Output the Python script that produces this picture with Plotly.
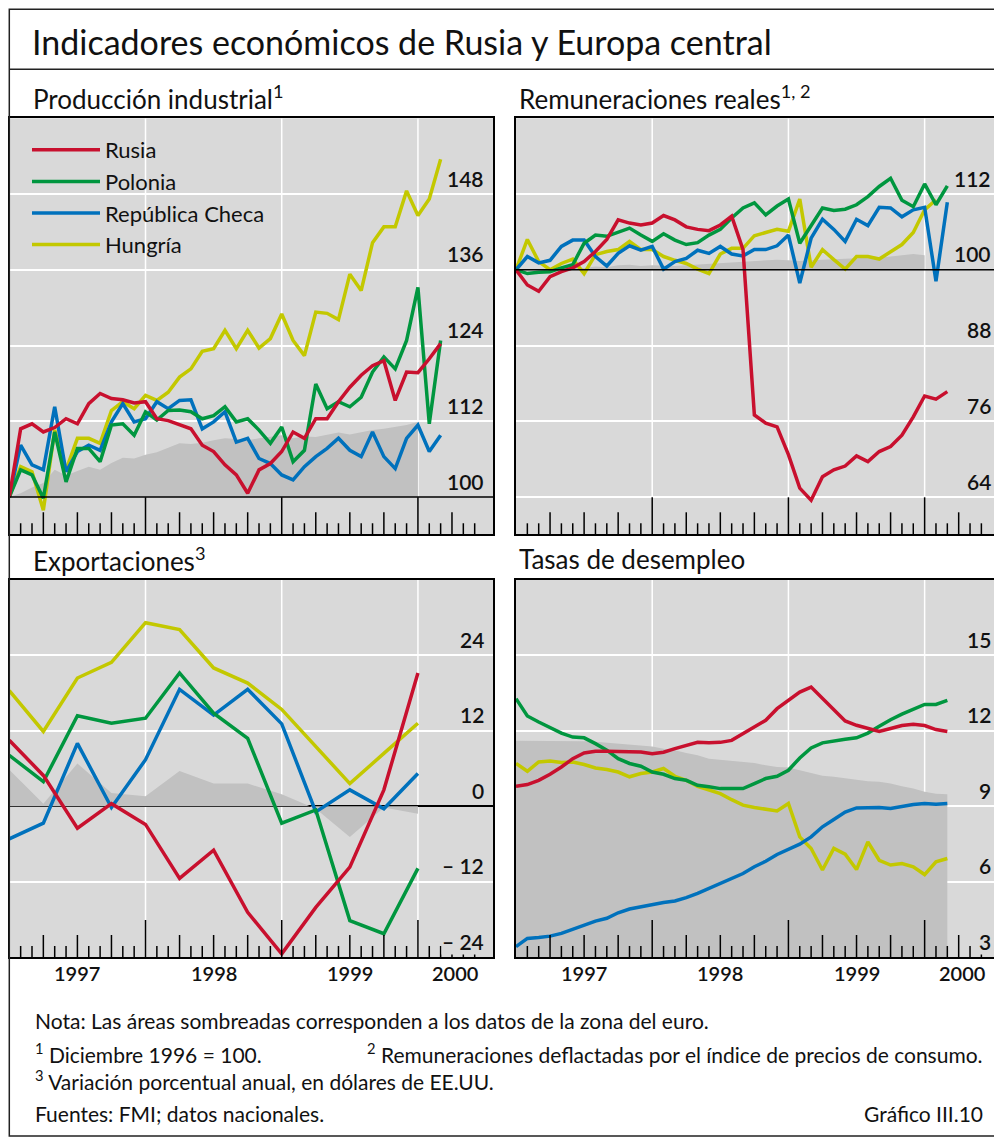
import plotly.graph_objects as go

FONT = "Lato, 'Open Sans', sans-serif"

# ---------------- data ----------------
meses = list(range(0, 39))            # months since Dec-1996 (monthly series)
trimestres = list(range(0, 37, 3))    # quarterly series (months since Dec-1996)
meses_euro = list(range(0, 37))

paises = ["Rusia", "Polonia", "República Checa", "Hungría"]
colores = ["#c8102e", "#00963f", "#0071bc", "#c3c800"]

# Producción industrial (Dic 1996 = 100)
ip_rusia = [100.0, 110.8, 111.6, 110.3, 111.0, 112.4, 111.6, 114.8, 116.4, 115.6, 115.4, 114.9, 115.1,
            112.4, 112.1, 111.4, 110.8, 108.2, 107.2, 105.1, 103.5, 100.6, 104.3, 105.3, 107.2,
            110.3, 109.3, 112.4, 112.4, 115.1, 117.4, 119.3, 120.8, 121.6, 115.3, 119.8, 119.7, 121.9, 124.3]
ip_polonia = [100.0, 104.3, 103.5, 99.8, 110.3, 102.4, 107.7, 107.7, 105.6, 111.4, 111.6, 109.8, 113.5,
              112.2, 113.7, 113.8, 113.5, 112.4, 112.9, 114.3, 111.9, 112.4, 110.6, 108.5, 111.1,
              105.6, 107.4, 117.9, 114.0, 115.1, 114.3, 115.8, 119.8, 122.2, 120.3, 124.8, 133.2, 111.6, 124.8]
ip_checa = [100.0, 108.2, 105.1, 104.3, 114.3, 104.0, 107.2, 108.2, 107.4, 111.9, 114.8, 111.9, 112.4,
            115.1, 114.0, 115.3, 115.4, 110.8, 111.9, 113.5, 108.7, 109.3, 106.1, 105.3, 103.5,
            102.7, 104.8, 106.4, 107.7, 109.3, 107.4, 106.4, 110.3, 106.4, 104.5, 109.3, 111.4, 107.2, 109.8]
ip_hungria = [100.0, 104.8, 104.0, 97.9, 110.6, 104.3, 109.3, 109.3, 108.5, 113.7, 115.1, 114.0, 116.1,
              115.3, 116.6, 119.0, 120.3, 123.1, 123.5, 126.4, 123.5, 126.4, 123.6, 125.1, 129.0,
              124.8, 122.4, 129.3, 129.1, 128.1, 135.3, 132.7, 140.3, 142.8, 142.8, 148.5, 144.6, 147.2, 153.5]
ip_euro = [100.0, 100.6, 101.5, 102.2, 104.3, 103.4, 104.1, 104.8, 104.3, 105.4, 106.2, 106.1, 106.7,
           107.1, 107.8, 108.5, 108.4, 108.6, 109.0, 109.3, 109.2, 109.0, 109.3, 109.5, 109.8,
           109.3, 109.6, 109.5, 109.8, 110.2, 109.9, 110.3, 110.6, 110.8, 111.1, 111.4, 111.9]

# Remuneraciones reales (Dic 1996 = 100)
rem_rusia = [100.0, 97.6, 96.6, 98.9, 99.7, 100.3, 101.3, 102.9, 104.8, 107.9, 107.4, 107.1, 107.4,
             108.6, 107.9, 106.8, 106.4, 106.2, 107.1, 108.5, 103.2, 77.0, 75.7, 75.1, 70.7,
             65.4, 63.5, 67.2, 68.3, 68.9, 70.5, 69.6, 71.2, 72.0, 73.8, 76.7, 80.0, 79.5, 80.7]
rem_polonia = [100.0, 99.4, 99.6, 99.7, 100.3, 100.8, 104.2, 105.5, 105.3, 105.9, 106.6, 105.5, 104.5,
               105.7, 104.7, 104.0, 104.3, 105.5, 106.4, 108.2, 109.8, 110.6, 108.7, 110.1, 111.2,
               104.2, 107.1, 109.8, 109.4, 109.6, 110.3, 111.6, 113.2, 114.5, 111.0, 110.0, 113.6, 110.3, 113.3]
rem_checa = [100.0, 102.1, 101.1, 101.5, 103.7, 104.7, 104.7, 102.1, 100.6, 102.6, 103.8, 103.1, 103.7,
             100.1, 101.3, 101.8, 103.1, 102.6, 103.7, 102.5, 102.2, 103.2, 103.2, 103.8, 105.5,
             97.9, 105.0, 108.0, 106.4, 104.5, 108.0, 107.0, 109.9, 109.8, 108.4, 109.5, 109.9, 98.2, 110.7]
rem_hungria = [100.0, 104.8, 101.3, 100.0, 101.0, 101.7, 99.4, 102.4, 102.9, 103.2, 104.5, 103.2, 103.2,
               102.1, 101.5, 101.0, 100.1, 99.4, 102.5, 103.4, 103.4, 105.4, 105.9, 106.4, 106.1,
               111.2, 100.4, 103.2, 101.6, 100.1, 102.1, 102.1, 101.7, 102.9, 104.0, 105.9, 109.5, 111.1]
rem_euro = [100.0, 100.0, 100.1, 100.2, 100.3, 100.4, 100.3, 100.5, 100.4, 100.7, 100.8, 100.6, 100.7,
            100.6, 100.6, 100.7, 100.8, 101.0, 101.1, 101.1, 101.2, 101.3, 101.5, 101.6, 101.5,
            101.4, 101.5, 101.6, 101.7, 101.8, 101.8, 101.9, 101.9, 102.1, 102.3, 102.5, 102.3]

# Exportaciones (variación porcentual anual, USD) - trimestral
exp_rusia = [10.5, 4.9, -3.5, 0.4, -2.9, -11.5, -7.0, -16.9, -23.5, -16.1, -9.7, 2.6, 21.2]
exp_polonia = [8.1, 3.9, 14.4, 13.2, 14.0, 21.2, 14.8, 10.8, -2.7, -0.6, -18.2, -20.3, -9.9]
exp_checa = [-5.2, -2.7, 10.0, -0.2, 7.4, 18.6, 14.5, 18.6, 13.1, -0.9, 2.6, -0.4, 5.2]
exp_hungria = [18.4, 11.9, 20.4, 22.9, 29.2, 28.1, 22.0, 19.6, 15.4, 9.5, 3.6, 8.4, 13.2]
exp_euro = [5.8, 0.4, 6.8, 2.1, 1.6, 5.6, 3.6, 3.6, 1.9, -0.4, -4.9, -0.2, -1.2]

# Tasas de desempleo (%)
des_rusia = [9.79, 9.86, 10.03, 10.27, 10.56, 10.89, 11.12, 11.19, 11.19, 11.19, 11.19, 11.16, 11.09,
             11.15, 11.29, 11.42, 11.54, 11.52, 11.54, 11.62, 11.89, 12.13, 12.42, 12.88, 13.21,
             13.54, 13.74, 13.28, 12.81, 12.39, 12.22, 12.09, 11.97, 12.09, 12.21, 12.26, 12.21, 12.05, 11.97]
des_polonia = [13.28, 12.59, 12.35, 12.13, 11.91, 11.75, 11.72, 11.49, 11.23, 10.89, 10.70, 10.59, 10.36,
               10.27, 10.10, 10.03, 9.83, 9.77, 9.70, 9.70, 9.70, 9.90, 10.10, 10.19, 10.43,
               10.92, 11.32, 11.52, 11.60, 11.66, 11.72, 11.91, 12.18, 12.44, 12.66, 12.84, 13.05, 13.05, 13.21]
des_checa = [3.41, 3.74, 3.78, 3.83, 3.94, 4.10, 4.25, 4.43, 4.54, 4.76, 4.91, 5.00, 5.09,
             5.17, 5.23, 5.36, 5.53, 5.73, 5.93, 6.13, 6.32, 6.59, 6.81, 7.08, 7.28,
             7.49, 7.78, 8.18, 8.47, 8.77, 8.93, 8.93, 8.95, 8.91, 9.00, 9.07, 9.11, 9.08, 9.11]
des_hungria = [10.70, 10.39, 10.76, 10.80, 10.74, 10.76, 10.66, 10.52, 10.46, 10.36, 10.17, 10.30, 10.36,
               10.50, 10.19, 10.03, 9.79, 9.64, 9.50, 9.26, 9.04, 8.95, 8.87, 8.81, 9.11,
               7.78, 7.32, 6.46, 7.32, 7.09, 6.48, 7.58, 6.85, 6.66, 6.72, 6.59, 6.28, 6.79, 6.92]
des_euro = [11.60, 11.60, 11.60, 11.60, 11.60, 11.60, 11.58, 11.56, 11.52, 11.49, 11.46, 11.42, 11.38,
            11.29, 11.23, 11.12, 11.03, 10.89, 10.85, 10.80, 10.76, 10.72, 10.63, 10.56, 10.54,
            10.43, 10.30, 10.21, 10.17, 10.10, 10.06, 9.99, 9.97, 9.90, 9.79, 9.70, 9.57, 9.50, 9.48]

# axis labels
ticks_ip = [100, 112, 124, 136, 148]
ticks_rem = [64, 76, 88, 100, 112]
ticks_exp = [-24, -12, 0, 12, 24]
ticks_des = [3, 6, 9, 12, 15]
anios = ["1997", "1998", "1999", "2000"]

# ---------------- geometry ----------------
OFF = 8                 # page body margin; figure is placed at (8, 8)
FW, FH = 1002 - OFF, 1140 - OFF
BG = "#d9d9d9"
SHADE = "#c1c1c1"
INK = "#111111"
XMAX = 42.64
BAND = 37.3  # px of tick band under top panels


def px(x):
    return (x - OFF) / FW


def py(y):
    return 1 - (y - OFF) / FH


paneles = [
    dict(t="Producción industrial<sup>1</sup>", tx=31, x0=9.3, x1=493.3, y0=118.3, y1=534.3, band=True,
         base=100, top=160, ticks=ticks_ip, x=meses, series=[ip_rusia, ip_polonia, ip_checa, ip_hungria],
         euro=ip_euro, xeuro=meses_euro, blackline=100),
    dict(t="Remuneraciones reales<sup>1, 2</sup>", tx=517, x0=516, x1=1000, y0=118.3, y1=534.3, band=True,
         base=64, top=124, ticks=ticks_rem, x=meses, series=[rem_rusia, rem_polonia, rem_checa, rem_hungria],
         euro=rem_euro, xeuro=meses_euro, blackline=100),
    dict(t="Exportaciones<sup>3</sup>", tx=31, x0=9.3, x1=493.3, y0=580, y1=957, band=False,
         base=-24, top=36, ticks=ticks_exp, x=trimestres, series=[exp_rusia, exp_polonia, exp_checa, exp_hungria],
         euro=exp_euro, xeuro=trimestres, blackline=0),
    dict(t="Tasas de desempleo", tx=517, x0=516, x1=1000, y0=580, y1=957, band=False,
         base=3, top=18, ticks=ticks_des, x=meses, series=[des_rusia, des_polonia, des_checa, des_hungria],
         euro=des_euro, xeuro=meses, blackline=None),
]

fig = go.Figure()
layout = dict(width=FW, height=FH, margin=dict(l=0, r=0, t=0, b=0), paper_bgcolor="white",
              plot_bgcolor=BG, showlegend=True, hovermode=False)
shapes = []
annotations = []

for i, p in enumerate(paneles, start=1):
    s = "" if i == 1 else str(i)
    xa, ya = "x" + s, "y" + s
    data_px = (p["y1"] - (BAND if p["band"] else 0)) - p["y0"]
    unit = data_px / (p["top"] - p["base"])
    ymin = p["base"] - (BAND / unit if p["band"] else 0)

    grid = [v for v in p["ticks"] if v != p["blackline"] and v > ymin + 1e-6 and not (v == p["base"] and not p["band"])]
    layout["xaxis" + s] = dict(domain=[px(p["x0"]), px(p["x1"])], range=[0, XMAX], anchor=ya,
                               showgrid=False, zeroline=False, showticklabels=False, ticks="",
                               showline=True, mirror=True, linecolor="#000", linewidth=1.5, fixedrange=True)
    layout["yaxis" + s] = dict(domain=[py(p["y1"]), py(p["y0"])], range=[ymin, p["top"]], anchor=xa,
                               tickmode="array", tickvals=grid, showgrid=True, gridcolor="white", gridwidth=1.5,
                               zeroline=(p["blackline"] == 0), zerolinecolor="#000", zerolinewidth=1.5,
                               showticklabels=False, ticks="",
                               showline=True, mirror=True, linecolor="#000", linewidth=1.5, fixedrange=True)

    # euro area shading
    if p["band"]:
        fig.add_trace(go.Scatter(x=p["xeuro"], y=[p["blackline"]] * len(p["xeuro"]), mode="lines",
                                 line=dict(width=0, color=SHADE), showlegend=False, xaxis=xa, yaxis=ya,
                                 hoverinfo="skip"))
        fig.add_trace(go.Scatter(x=p["xeuro"], y=p["euro"], mode="lines", fill="tonexty", fillcolor=SHADE,
                                 line=dict(width=0, color=SHADE), showlegend=False, xaxis=xa, yaxis=ya,
                                 hoverinfo="skip"))
    else:
        fig.add_trace(go.Scatter(x=p["xeuro"], y=p["euro"], mode="lines", fill="tozeroy", fillcolor=SHADE,
                                 line=dict(width=0, color=SHADE), showlegend=False, xaxis=xa, yaxis=ya,
                                 hoverinfo="skip"))

    # country lines (drawn Hungría first, Rusia on top)
    for k in [3, 2, 1, 0]:
        fig.add_trace(go.Scatter(x=p["x"][:len(p["series"][k])], y=p["series"][k], mode="lines",
                                 name=paises[k],
                                 line=dict(color=colores[k], width=3.5), showlegend=(i == 1),
                                 xaxis=xa, yaxis=ya, hoverinfo="skip"))

    # vertical year gridlines
    for m in (12, 24, 36):
        shapes.append(dict(type="line", xref=xa, yref=ya, x0=m, x1=m,
                           y0=(p["base"] if p["band"] else ymin), y1=p["top"],
                           line=dict(color="white", width=1.5), layer="below"))
    if p["blackline"] is not None and p["band"]:
        shapes.append(dict(type="line", xref=xa + " domain", yref=ya, x0=0, x1=1,
                           y0=p["blackline"], y1=p["blackline"],
                           line=dict(color="#000", width=1.5), layer="above"))
    # month / quarter / year ticks
    for m in range(1, int(XMAX)):
        L = 37 if m % 12 == 0 else (22 if m % 3 == 0 else 11)
        shapes.append(dict(type="line", xref=xa, yref=ya + " domain", x0=m, x1=m,
                           ysizemode="pixel", yanchor=0, y0=0, y1=L,
                           line=dict(color="#000", width=1.5), layer="above"))

    # value labels (above their gridline)
    for v in p["ticks"]:
        lab = ("– %d" % abs(v)) if v < 0 else str(v)
        annotations.append(dict(text=lab, xref="paper", yref=ya, x=px(p["x1"] - 8), y=v,
                                xanchor="right", yanchor="middle", yshift=16, showarrow=False,
                                bgcolor=BG, borderpad=0,
                                font=dict(family=FONT, size=21, color=INK, weight=600)))
    # panel title
    annotations.append(dict(text=p["t"], xref="paper", yref="paper", x=px(p["tx"]),
                            y=py(p["y0"] - 21), xanchor="left", yanchor="middle", showarrow=False,
                            font=dict(family=FONT, size=26, color=INK)))
    # year labels under bottom panels
    if not p["band"]:
        centros = [6, 18, 30, (36 + XMAX) / 2]
        for c, a in zip(centros, anios):
            annotations.append(dict(text=a, xref=xa, yref="paper", x=c, y=py(p["y1"] + 16),
                                    xanchor="center", yanchor="middle", showarrow=False,
                                    font=dict(family=FONT, size=20, color=INK, weight=600)))

# frame & title
shapes.append(dict(type="rect", xref="paper", yref="paper", x0=px(9.3), x1=px(1000), y0=py(1136), y1=py(9.3),
                   line=dict(color="#222", width=1.5), layer="above"))
shapes.append(dict(type="line", xref="paper", yref="paper", x0=px(9.3), x1=px(1000), y0=py(69.3), y1=py(69.3),
                   line=dict(color="#222", width=1.5), layer="above"))
annotations.append(dict(text="Indicadores económicos de Rusia y Europa central", xref="paper", yref="paper",
                        x=px(30), y=py(42), xanchor="left", yanchor="middle", showarrow=False,
                        font=dict(family=FONT, size=34, color=INK)))

notas = [
    ("Nota: Las áreas sombreadas corresponden a los datos de la zona del euro.", 33, 1020, "left"),
    ("<sup>1</sup> Diciembre 1996 = 100.", 33, 1053, "left"),
    ("<sup>2</sup> Remuneraciones deflactadas por el índice de precios de consumo.", 985, 1053, "right"),
    ("<sup>3</sup> Variación porcentual anual, en dólares de EE.UU.", 33, 1080, "left"),
    ("Fuentes: FMI; datos nacionales.", 33, 1113, "left"),
    ("Gráfico III.10", 985, 1113, "right"),
]
for txt, x, y, anc in notas:
    annotations.append(dict(text=txt, xref="paper", yref="paper", x=px(x), y=py(y), xanchor=anc,
                            yanchor="middle", showarrow=False, font=dict(family=FONT, size=21, color=INK)))

layout["shapes"] = shapes
layout["annotations"] = annotations
layout["legend"] = dict(x=px(27), y=py(129), xanchor="left", yanchor="top", bgcolor="rgba(0,0,0,0)",
                        font=dict(family=FONT, size=22, color=INK), itemwidth=68, tracegroupgap=0,
                        traceorder="reversed")
fig.update_layout(**layout)
fig.write_html("out.html")
